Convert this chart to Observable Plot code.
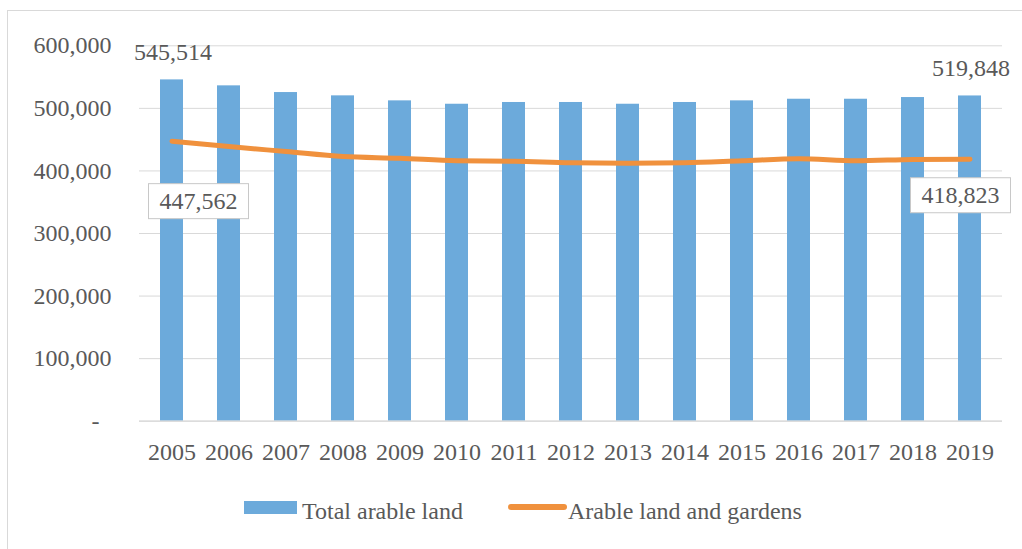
<!DOCTYPE html>
<html>
<head>
<meta charset="utf-8">
<script src="https://cdn.jsdelivr.net/npm/d3@7"></script>
<script src="https://cdn.jsdelivr.net/npm/@observablehq/plot@0.6"></script>
<style>
  html, body { margin: 0; padding: 0; background: #ffffff; }
  #wrap { position: relative; width: 1022px; height: 549px; overflow: hidden;
          font-family: "Liberation Serif", "Times New Roman", serif; color: #595959; }
  #frame { position: absolute; left: 7px; top: 10px; right: -5px; bottom: -5px;
           border-top: 1px solid #d9d9d9; border-left: 1px solid #d9d9d9; }
  #chart { position: relative; }
  #chart svg { display: block; }
  #legend { position: relative; height: 74px; font-size: 24px; }
  #legend .sw { position: absolute; }
  #legend .lb { position: absolute; top: 22px; line-height: 28px; white-space: nowrap; }
</style>
</head>
<body>
<div id="wrap">
  <div id="frame"></div>
  <div id="chart"></div>
  <div id="legend"></div>
</div>
<script>
// ---- data ----
const years = ["2005","2006","2007","2008","2009","2010","2011","2012","2013","2014","2015","2016","2017","2018","2019"];
const totalArable = [545514, 536000, 525300, 520000, 512000, 506600, 509400, 509400, 506600, 509400, 512000, 514600, 514600, 517300, 519848];
const arableGardens = [447562, 439000, 431000, 423000, 420300, 416200, 415500, 413000, 412300, 413000, 416200, 419400, 416200, 418300, 418823];
const yTicks = [0, 100000, 200000, 300000, 400000, 500000, 600000];
const seriesNames = ["Total arable land", "Arable land and gardens"];
const colors = ["#6caadb", "#f0913d"];

const data = years.map((year, i) => ({year, total: totalArable[i], gardens: arableGardens[i]}));
const first = data[0], last = data[data.length - 1];
const fmt = d3.format(",");
const FONT = "'Liberation Serif','Times New Roman',serif";

const chart = Plot.plot({
  width: 1022,
  height: 475,
  marginTop: 45.3,
  marginBottom: 54.3,
  marginLeft: 139,
  marginRight: 20,
  style: `font-family:${FONT};font-size:24px;color:#595959;background:transparent;`,
  x: {type: "band", domain: years, paddingInner: 0.6, paddingOuter: 0.3, label: null, tickSize: 0, tickPadding: 22},
  y: {domain: [0, 600000], ticks: yTicks, tickFormat: d => d === 0 ? "-\u00a0\u00a0" : fmt(d), label: null, tickSize: 0, tickPadding: 28},
  marks: [
    Plot.ruleY(yTicks, {stroke: "#d9d9d9", strokeOpacity: 1, strokeWidth: 1}),
    Plot.barY(data, {x: "year", y: "total", fill: colors[0]}),
    Plot.ruleY([0], {stroke: "#d9d9d9", strokeWidth: 1.2}),
    Plot.line(data, {x: "year", y: "gardens", stroke: colors[1], strokeWidth: 5, curve: "monotone-x", strokeLinecap: "round", strokeLinejoin: "round"}),
    Plot.text([first, last], {x: "year", y: "total", text: d => fmt(d.total), dx: 1, dy: -28, fill: "#595959", fontSize: 24}),
    Plot.text([first], {x: "year", y: "gardens", text: d => fmt(d.gardens), dx: 26.5, dy: 60.3, fill: "#595959", fontSize: 24, ariaDescription: "boxed"}),
    Plot.text([last], {x: "year", y: "gardens", text: d => fmt(d.gardens), dx: -9.5, dy: 36.4, fill: "#595959", fontSize: 24, ariaDescription: "boxed"})
  ]
});
document.getElementById("chart").appendChild(chart);

// boxes behind line labels
chart.querySelectorAll('g[aria-description="boxed"] text').forEach(t => {
  const b = t.getBBox();
  const padX = 11, padY = 4.5;
  const r = document.createElementNS("http://www.w3.org/2000/svg", "rect");
  r.setAttribute("x", b.x - padX);
  r.setAttribute("y", b.y - padY);
  r.setAttribute("width", b.width + 2 * padX);
  r.setAttribute("height", b.height + 2 * padY);
  r.setAttribute("fill", "#ffffff");
  r.setAttribute("stroke", "#c8c8c8");
  r.setAttribute("stroke-width", "1");
  if (t.getAttribute("transform")) r.setAttribute("transform", t.getAttribute("transform"));
  t.parentNode.insertBefore(r, t);
});

// legend
const lg = document.getElementById("legend");
lg.innerHTML = `
  <div class="sw" style="left:244px;top:26px;width:53px;height:13px;background:${colors[0]}"></div>
  <div class="lb" style="left:302px">${seriesNames[0]}</div>
  <div class="sw" style="left:508px;top:29px;width:59px;height:6px;border-radius:3px;background:${colors[1]}"></div>
  <div class="lb" style="left:568px">${seriesNames[1]}</div>`;
</script>
</body>
</html>
